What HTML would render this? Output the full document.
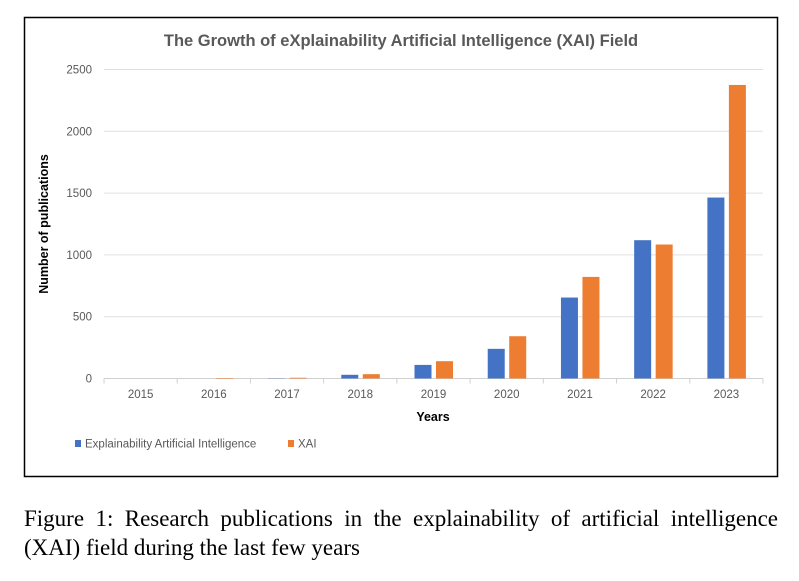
<!DOCTYPE html>
<html><head><meta charset="utf-8"><style>
body{margin:0;background:#fff;width:799px;height:581px;overflow:hidden;position:relative}
.cap{position:absolute;left:24px;width:754px;font-family:"Liberation Serif",serif;font-size:23px;line-height:28px;color:#000;white-space:nowrap}
#cap1{top:505px;text-align:justify;text-align-last:justify}
#cap2{top:534px}
</style></head><body>
<svg id="chart" width="799" height="500" style="position:absolute;left:0;top:0" font-family="Liberation Sans, sans-serif">
<rect x="24.5" y="17.5" width="753" height="459" fill="#fff" stroke="#000" stroke-width="1.5"/>
<text x="401" y="46" text-anchor="middle" font-size="16.5" font-weight="bold" fill="#595959">The Growth of eXplainability Artificial Intelligence (XAI) Field</text>
<g id="grid"></g><g id="bars"></g><g id="xt"></g>
<text x="433" y="421" text-anchor="middle" font-size="12.5" font-weight="bold" fill="#000">Years</text>
<text transform="translate(48,224) rotate(-90)" text-anchor="middle" font-size="12.5" font-weight="bold" fill="#000">Number of publications</text>
<g>
<rect x="75" y="440" width="6" height="7" fill="#4472c4"/>
<text x="85" y="447.5" font-size="11.5" fill="#595959">Explainability Artificial Intelligence</text>
<rect x="288" y="440" width="6" height="7" fill="#ed7d31"/>
<text x="298" y="447.5" font-size="11.5" fill="#595959">XAI</text>
</g>
</svg>
<div id="cap1" class="cap">Figure 1: Research publications in the explainability of artificial intelligence</div>
<div id="cap2" class="cap">(XAI) field during the last few years</div>
<script>
const years=["2015","2016","2017","2018","2019","2020","2021","2022","2023"];
const eaiValues=[0,0,2,30,110,240,655,1119,1464];
const xaiValues=[0,4,6,35,140,342,822,1084,2375];
const yTicks=[0,500,1000,1500,2000,2500];
const x0=104,x1=763,y0=378.5,yTop=69.5,yMax=2500;
const bw=(x1-x0)/years.length;
const ys=v=>y0-(v/yMax)*(y0-yTop);
const NS="http://www.w3.org/2000/svg";
function mk(t,a,p){const e=document.createElementNS(NS,t);for(const k in a)e.setAttribute(k,a[k]);p.appendChild(e);return e;}
const grid=document.getElementById('grid'),bars=document.getElementById('bars'),xt=document.getElementById('xt');
yTicks.forEach(v=>{const y=ys(v);
 const l=mk('line',{x1:x0,x2:x1,y1:y,y2:y,stroke:v===0?'#d0d0d0':'#e0e0e0','stroke-width':1},grid);
 
 
 const t=mk('text',{x:92,y:y+4,'text-anchor':'end','font-size':11.5,fill:'#595959'},grid);t.textContent=v;
 
 
});
for(let i=0;i<=years.length;i++){const x=x0+i*bw;
 const l=mk('line',{x1:x,x2:x,y1:y0,y2:y0+5,stroke:'#d0d0d0'},grid);
 
 }
years.forEach((yr,i)=>{const c=x0+(i+0.5)*bw;
 const t=mk('text',{x:c,y:398,'text-anchor':'middle','font-size':11.5,fill:'#595959'},xt);t.textContent=yr;
 
 
 const b1=mk('rect',{x:c-19,y:ys(eaiValues[i]),width:17,height:y0-ys(eaiValues[i]),fill:'#4472c4'},bars);
 
 
 const b2=mk('rect',{x:c+2.5,y:ys(xaiValues[i]),width:17,height:y0-ys(xaiValues[i]),fill:'#ed7d31'},bars);
 
 
});
</script>
</body></html>
